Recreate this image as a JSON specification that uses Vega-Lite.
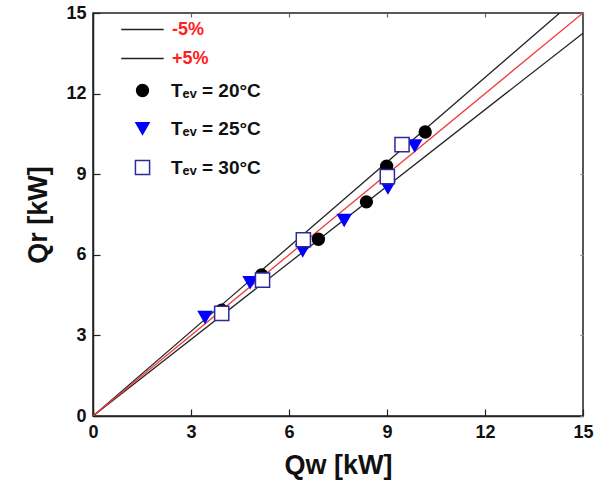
{
  "$schema": "https://vega.github.io/schema/vega-lite/v6.json",
  "width": 490,
  "height": 403,
  "autosize": {"type": "none"},
  "padding": {"left": 93, "top": 13, "right": 12, "bottom": 70},
  "background": "white",
  "config": {
    "view": {"stroke": "#222", "strokeWidth": 1.5},
    "font": "Liberation Sans",
    "axis": {
      "grid": false,
      "domainColor": "#222",
      "domainWidth": 1.5,
      "tickColor": "#222",
      "tickWidth": 1.2,
      "labelFont": "Liberation Sans",
      "labelFontWeight": "bold",
      "labelFontSize": 18,
      "labelColor": "#111",
      "labelFlush": false,
      "titleFont": "Liberation Sans",
      "titleFontWeight": "bold",
      "titleFontSize": 27,
      "titleColor": "#111"
    }
  },
  "datasets": {
    "ratio": [
      {"series": "-5%", "qw": 0, "qr": 0},
      {"series": "-5%", "qw": 15, "qr": 14.25},
      {"series": "+5%", "qw": 0, "qr": 0},
      {"series": "+5%", "qw": 15, "qr": 15.75},
      {"series": "1:1", "qw": 0, "qr": 0},
      {"series": "1:1", "qw": 15, "qr": 15}
    ],
    "measured": [
      {"tev": "20", "qw": 3.94, "qr": 3.94},
      {"tev": "20", "qw": 5.16, "qr": 5.25},
      {"tev": "20", "qw": 6.9, "qr": 6.58},
      {"tev": "20", "qw": 8.37, "qr": 7.97},
      {"tev": "20", "qw": 8.99, "qr": 9.3},
      {"tev": "20", "qw": 10.17, "qr": 10.57},
      {"tev": "25", "qw": 3.43, "qr": 3.68},
      {"tev": "25", "qw": 4.81, "qr": 4.97},
      {"tev": "25", "qw": 6.42, "qr": 6.16},
      {"tev": "25", "qw": 7.69, "qr": 7.29},
      {"tev": "25", "qw": 9.03, "qr": 8.5},
      {"tev": "25", "qw": 9.85, "qr": 10.06},
      {"tev": "30", "qw": 3.94, "qr": 3.82},
      {"tev": "30", "qw": 5.19, "qr": 5.06},
      {"tev": "30", "qw": 6.44, "qr": 6.56},
      {"tev": "30", "qw": 9.01, "qr": 8.91},
      {"tev": "30", "qw": 9.46, "qr": 10.1}
    ]
  },
  "resolve": {
    "axis": {"x": "independent", "y": "independent"}
  },
  "layer": [
    {
      "data": {"name": "ratio"},
      "mark": {"type": "line", "clip": true, "strokeWidth": 1.3},
      "encoding": {
        "x": {"field": "qw", "type": "quantitative", "scale": {"domain": [0, 15], "nice": false},
              "axis": {"orient": "bottom", "values": [0, 3, 6, 9, 12, 15], "tickSize": -7, "labelPadding": 14, "title": "Qw [kW]", "titlePadding": 11}},
        "y": {"field": "qr", "type": "quantitative", "scale": {"domain": [0, 15], "nice": false},
              "axis": {"orient": "left", "values": [0, 3, 6, 9, 12, 15], "tickSize": -7, "labelPadding": 14, "title": "Qr [kW]", "titlePadding": 13}},
        "detail": {"field": "series"},
        "stroke": {"field": "series", "type": "nominal",
                   "scale": {"domain": ["-5%", "+5%", "1:1"], "range": ["#222222", "#222222", "#f03a3a"]},
                   "legend": {"values": ["-5%", "+5%"], "title": null, "orient": "none", "legendX": 40, "legendY": 7,
                              "symbolType": "M-2.5,0H2.5", "symbolSize": 289, "symbolStrokeWidth": 1.3, "symbolFillColor": "transparent",
                              "labelColor": "#ff2020", "labelFontSize": 18, "labelFontWeight": "bold", "labelOffset": 20, "rowPadding": 10}}
      }
    },
    {
      "data": {"name": "measured"},
      "mark": {"type": "point", "filled": false, "strokeWidth": 1.5, "opacity": 1},
      "encoding": {
        "x": {"field": "qw", "type": "quantitative",
              "axis": {"orient": "top", "values": [0, 3, 6, 9, 12, 15], "tickSize": -4, "tickColor": "#666", "labels": false, "title": null, "domain": false}},
        "y": {"field": "qr", "type": "quantitative",
              "axis": {"orient": "right", "values": [0, 3, 6, 9, 12, 15], "tickSize": -3, "tickColor": "#888", "labels": false, "title": null, "domain": false}},
        "shape": {"field": "tev", "type": "nominal",
                  "scale": {"domain": ["20", "25", "30"], "range": ["circle", "triangle-down", "square"]},
                  "legend": {"title": null, "orient": "none", "legendX": 40, "legendY": 68,
                             "labelExpr": "'Tₑᵥ = ' + datum.label + '°C'",
                             "symbolStrokeWidth": 1.5,
                             "labelColor": "#111", "labelFontSize": 19, "labelFontWeight": "bold", "labelOffset": 19, "rowPadding": 18}},
        "fill": {"field": "tev", "type": "nominal",
                 "scale": {"domain": ["20", "25", "30"], "range": ["#000000", "#0000ff", "#ffffff"]}},
        "color": {"field": "tev", "type": "nominal",
                  "scale": {"domain": ["20", "25", "30"], "range": ["#000000", "#0000ff", "#2b2b9c"]}},
        "size": {"field": "tev", "type": "nominal",
                 "scale": {"domain": ["20", "25", "30"], "range": [140, 200, 120]}}
      }
    }
  ]
}
